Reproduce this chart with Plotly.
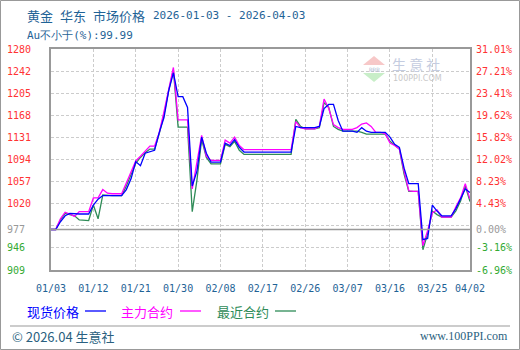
import plotly.graph_objects as go
import pandas as pd

# ---------------- data ----------------
start_date = "2026-01-03"
n_days = 90
dates = pd.date_range(start_date, periods=n_days, freq="D")

spot = [977, 977, 990, 1000, 1004, 1003, 1003, 1003, 1003, 1018,
        1028, 1034, 1034, 1034, 1034, 1034, 1044, 1062, 1091, 1084,
        1105, 1108, 1110, 1140, 1165, 1210, 1240, 1200, 1200, 1182,
        1050, 1075, 1132, 1105, 1090, 1090, 1090, 1122, 1118, 1128,
        1115, 1107, 1107, 1107, 1107, 1107, 1107, 1107, 1107, 1107,
        1107, 1107, 1150, 1148, 1148, 1148, 1148, 1150, 1180, 1187,
        1187, 1160, 1142, 1142, 1142, 1140, 1148, 1142, 1140, 1140,
        1140, 1140, 1132, 1120, 1115, 1080, 1054, 1054, 1054, 960,
        962, 1018, 1008, 1000, 1000, 1000, 1012, 1030, 1045, 1039]

main_contract = [977, 977, 995, 1006, 1003, 999, 1007, 1007, 1007, 1030,
                 1030, 1044, 1038, 1037, 1037, 1037, 1055, 1075, 1092, 1100,
                 1108, 1117, 1117, 1140, 1175, 1215, 1249, 1161, 1161, 1161,
                 1045, 1090, 1135, 1100, 1093, 1093, 1093, 1127, 1122, 1132,
                 1118, 1111, 1111, 1111, 1111, 1111, 1111, 1111, 1111, 1111,
                 1111, 1111, 1158, 1148, 1146, 1146, 1146, 1150, 1196, 1180,
                 1153, 1148, 1145, 1145, 1145, 1148, 1154, 1156, 1150, 1140,
                 1140, 1138, 1122, 1118, 1112, 1075, 1042, 1041, 1041, 950,
                 975, 1005, 1010, 998, 998, 998, 1015, 1030, 1054, 1028]

nearest_contract = [977, 977, 993, 1004, 1002, 1000, 993, 992, 992, 1018,
                    995, 1035, 1034, 1034, 1034, 1034, 1050, 1070, 1088, 1098,
                    1106, 1112, 1112, 1138, 1170, 1210, 1245, 1149, 1149, 1149,
                    1007, 1060, 1128, 1098, 1087, 1087, 1087, 1120, 1116, 1125,
                    1110, 1103, 1103, 1103, 1103, 1103, 1103, 1103, 1103, 1103,
                    1103, 1103, 1162, 1150, 1146, 1146, 1146, 1148, 1190, 1182,
                    1150, 1145, 1142, 1142, 1142, 1142, 1140, 1137, 1137, 1137,
                    1137, 1137, 1125, 1118, 1112, 1070, 1041, 1041, 1041, 943,
                    970, 1008, 1002, 998, 998, 998, 1008, 1025, 1050, 1024]

series_names = ["现货价格", "主力合约", "最近合约"]
series_colors = ["#0000FF", "#FF00FF", "#2E8B57"]

x_tick_vals = ["2026-01-03", "2026-01-12", "2026-01-21", "2026-01-30", "2026-02-08",
               "2026-02-17", "2026-02-26", "2026-03-07", "2026-03-16", "2026-03-25",
               "2026-04-02"]
x_tick_text = ["01/03", "01/12", "01/21", "01/30", "02/08", "02/17", "02/26",
               "03/07", "03/16", "03/25", "04/02"]

base_price = 977
y_min, y_max = 909, 1280
grid_vals = [1280, 1242.9, 1205.8, 1168.7, 1131.6, 1094.5, 1057.4, 1020.3, 983.2, 946.1, 909]
left_label_vals = [1280, 1242.9, 1205.8, 1168.7, 1131.6, 1094.5, 1057.4, 1020.3, 977, 946.1, 909]
left_labels = ["1280", "1242", "1205", "1168", "1131", "1094", "1057", "1020", "977", "946", "909"]
right_labels = ["31.01%", "27.21%", "23.41%", "19.62%", "15.82%", "12.02%", "8.23%",
                "4.43%", "0.00%", "-3.16%", "-6.96%"]

title_words = ["黄金", "华东", "市场价格"]
title_dates = "2026-01-03 - 2026-04-03"
subtitle = "Au不小于(%):99.99"

# ---------------- figure ----------------
W, H = 520, 350
L, R, T, B = 51, 50, 49, 80
pw, ph = W - L - R, H - T - B


def px(x):
    return (x - L) / pw


def py(y):
    return (H - B - y) / ph


MONO = "DejaVu Sans Mono"
CJK = "Noto Sans CJK SC"
TXT_BLUE = "#1f6396"

fig = go.Figure()
for name, vals, col in zip(series_names[::-1],
                           [nearest_contract, main_contract, spot],
                           series_colors[::-1]):
    fig.add_trace(go.Scatter(x=dates, y=vals, mode="lines", name=name,
                             line=dict(color=col, width=1.3), showlegend=False))

annotations = []
for v, t in zip(left_label_vals, left_labels):
    c = "#FF3333" if v > base_price else ("#999999" if v == base_price else "#33AA33")
    annotations.append(dict(x=px(5), y=v, xref="paper", yref="y", text=t, showarrow=False,
                            xanchor="left", yanchor="middle",
                            font=dict(family=MONO, size=10, color=c)))
for v, t in zip(left_label_vals, right_labels):
    c = "#FF3333" if v > base_price else ("#999999" if v == base_price else "#33AA33")
    annotations.append(dict(x=px(474), y=v, xref="paper", yref="y", text=t, showarrow=False,
                            xanchor="left", yanchor="middle",
                            font=dict(family=MONO, size=10, color=c)))

# titles
for word, wx in zip(title_words, [25, 58, 91]):
    annotations.append(dict(x=px(wx), y=py(15), xref="paper", yref="paper", text=word,
                            showarrow=False, xanchor="left", yanchor="middle",
                            font=dict(family=CJK, size=13, color=TXT_BLUE)))
annotations.append(dict(x=px(151), y=py(15), xref="paper", yref="paper",
                        text=title_dates,
                        showarrow=False, xanchor="left", yanchor="middle",
                        font=dict(family=MONO, size=11, color=TXT_BLUE)))
annotations.append(dict(x=px(25), y=py(35), xref="paper", yref="paper",
                        text=subtitle,
                        showarrow=False, xanchor="left", yanchor="middle",
                        font=dict(family=MONO, size=11, color=TXT_BLUE)))

# legend (manual)
legend_text_x = [25, 119, 215]
legend_line_x = [(85, 106), (180, 201), (275, 296)]
shapes = []
for name, col, tx, (lx0, lx1) in zip(series_names, series_colors, legend_text_x, legend_line_x):
    annotations.append(dict(x=px(tx), y=py(311), xref="paper", yref="paper", text=name,
                            showarrow=False, xanchor="left", yanchor="middle",
                            font=dict(family=CJK, size=13, color=col)))
    shapes.append(dict(type="line", xref="paper", yref="paper", x0=px(lx0), x1=px(lx1),
                       y0=py(311), y1=py(311), line=dict(color=col, width=1.3)))

# footer
annotations.append(dict(x=px(10), y=py(336), xref="paper", yref="paper",
                        text="© 2026.04 生意社", showarrow=False, xanchor="left", yanchor="middle",
                        font=dict(family=CJK, size=13, color="#2a5f80")))
annotations.append(dict(x=px(510), y=py(336), xref="paper", yref="paper",
                        text="www.100PPI.com", showarrow=False, xanchor="right", yanchor="middle",
                        font=dict(family="Liberation Serif", size=12, color="#2a5f80")))

# watermark
def tri(pts):
    return "M " + " L ".join(f"{px(a):.4f},{py(b):.4f}" for a, b in pts) + " Z"


shapes.append(dict(type="path", xref="paper", yref="paper",
                   path=tri([(374, 56), (385, 65), (363, 65)]),
                   fillcolor="#f7c8c8", line=dict(width=0)))
shapes.append(dict(type="path", xref="paper", yref="paper",
                   path=tri([(363, 73), (385, 73), (374, 82)]),
                   fillcolor="#c8eec8", line=dict(width=0)))
annotations.append(dict(x=px(374), y=py(69), xref="paper", yref="paper", text="RRR",
                        showarrow=False, xanchor="center", yanchor="middle",
                        font=dict(family=MONO, size=6, color="#b0bcd4")))
annotations.append(dict(x=px(390), y=py(64), xref="paper", yref="paper", text="生 意 社",
                        showarrow=False, xanchor="left", yanchor="middle",
                        font=dict(family=CJK, size=14, color="#c4cce0")))
annotations.append(dict(x=px(391), y=py(78), xref="paper", yref="paper", text="100PPI.COM",
                        showarrow=False, xanchor="left", yanchor="middle",
                        font=dict(family="DejaVu Sans", size=8, color="#c8c8c8")))

# baseline, separator, border
shapes.append(dict(type="line", xref="paper", yref="y", x0=0, x1=1, y0=base_price, y1=base_price,
                   line=dict(color="#999999", width=1.5)))
shapes.append(dict(type="line", xref="paper", yref="paper", x0=px(10), x1=px(510),
                   y0=py(326), y1=py(326), line=dict(color="#999999", width=1)))
shapes.append(dict(type="rect", xref="paper", yref="paper", x0=px(0.5), x1=px(519.5),
                   y0=py(349.5), y1=py(0.5), line=dict(color="#999999", width=1)))

fig.update_layout(
    width=W, height=H,
    margin=dict(l=L, r=R, t=T, b=B),
    paper_bgcolor="white", plot_bgcolor="white",
    annotations=annotations, shapes=shapes,
    xaxis=dict(type="date", range=[x_tick_vals[0], x_tick_vals[-1]],
               tickvals=x_tick_vals, ticktext=x_tick_text,
               showgrid=True, gridcolor="#cccccc", griddash="3px,2px", gridwidth=1,
               showline=True, linecolor="#999999", linewidth=1.5, mirror=True,
               ticks="", zeroline=False, ticklabelstandoff=8,
               tickfont=dict(family=MONO, size=10, color=TXT_BLUE)),
    yaxis=dict(range=[y_min, y_max], tickvals=grid_vals, showticklabels=False,
               showgrid=True, gridcolor="#cccccc", griddash="3px,2px", gridwidth=1,
               showline=True, linecolor="#999999", linewidth=1.5, mirror=True,
               ticks="", zeroline=False),
)

fig.write_html("out.html")
